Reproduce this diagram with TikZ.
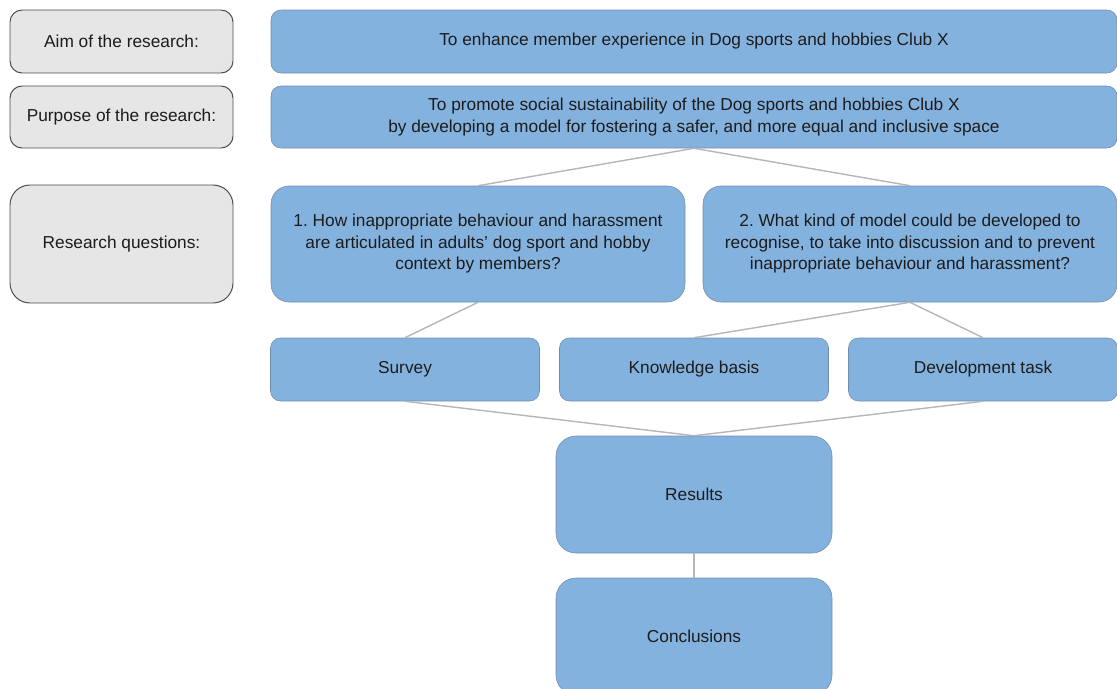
\documentclass[tikz,border=0pt]{standalone}
\usepackage{fontspec}
\setmainfont{Liberation Sans}
\usepackage{tikz}
\frenchspacing
\definecolor{boxblue}{RGB}{132,178,223}
\definecolor{boxedge}{RGB}{112,140,172}
\definecolor{headgray}{RGB}{230,230,230}
\definecolor{linkgray}{RGB}{182,182,182}
\definecolor{textdark}{RGB}{28,28,28}
\tikzstyle{heading} = [rectangle, draw=black!70, line width=0.7pt, fill=headgray,
  rounded corners=3mm, minimum width=5.575cm, align=center, text=textdark,
  font=\fontsize{12.3}{15.3}\selectfont]
\tikzstyle{topic} = [rectangle, draw=boxedge, line width=0.4pt, fill=boxblue,
  rounded corners=2.5mm, minimum width=21.15cm, align=center, text=textdark,
  font=\fontsize{12.3}{15.3}\selectfont]
\tikzstyle{question} = [topic, rounded corners=4.5mm, minimum width=10.35cm,
  minimum height=2.9cm]
\tikzstyle{method} = [topic, rounded corners=2.5mm, minimum width=6.725cm,
  minimum height=1.575cm]
\tikzstyle{outcome} = [topic, rounded corners=5mm, minimum width=6.9cm,
  minimum height=2.925cm]
\tikzstyle{link} = [draw, linkgray, line width=1pt]
\begin{document}
\begin{tikzpicture}
    \useasboundingbox (0,0) rectangle (27.925,-17.2);
    \node[heading, minimum height=1.575cm] (aimlabel) at (3.0375,-1.0375) {Aim of the research:};
    \node[heading, below of=aimlabel, node distance=1.8875cm, minimum height=1.55cm] (purposelabel) {Purpose of the research:};
    \node[heading, below of=purposelabel, node distance=3.175cm, minimum height=2.95cm, rounded corners=5mm] (rqlabel) {Research questions:};

    \node[topic, right of=aimlabel, node distance=14.3125cm, minimum height=1.575cm] (aim) {To enhance member experience in Dog sports and hobbies Club X};
    \node[topic, right of=purposelabel, node distance=14.3125cm, minimum height=1.55cm] (purpose) {To promote social sustainability of the Dog sports and hobbies Club X\\by developing a model for fostering a safer, and more equal and inclusive space};

    \node[question, right of=rqlabel, node distance=8.9125cm] (q1) {1. How inappropriate behaviour and harassment\\are articulated in adults’ dog sport and hobby\\context by members?};
    \node[question, right of=q1, node distance=10.8cm] (q2) {2. What kind of model could be developed to\\recognise, to take into discussion and to prevent\\inappropriate behaviour and harassment?};

    \node[method, below of=purpose, node distance=6.3125cm] (knowledge) {Knowledge basis};
    \node[method, left of=knowledge, node distance=7.225cm] (survey) {Survey};
    \node[method, right of=knowledge, node distance=7.225cm] (devtask) {Development task};

    \node[outcome, below of=knowledge, node distance=3.125cm] (results) {Results};
    \node[outcome, below of=results, node distance=3.55cm] (conclusions) {Conclusions};

    \path[link] (purpose.south) -- (q1.north);
    \path[link] (purpose.south) -- (q2.north);
    \path[link] (q1.south) -- (survey.north);
    \path[link] (q2.south) -- (knowledge.north);
    \path[link] (q2.south) -- (devtask.north);
    \path[link] (survey.south) -- (results.north);
    \path[link] (devtask.south) -- (results.north);
    \path[link] (results) -- (conclusions);
\end{tikzpicture}
\end{document}
